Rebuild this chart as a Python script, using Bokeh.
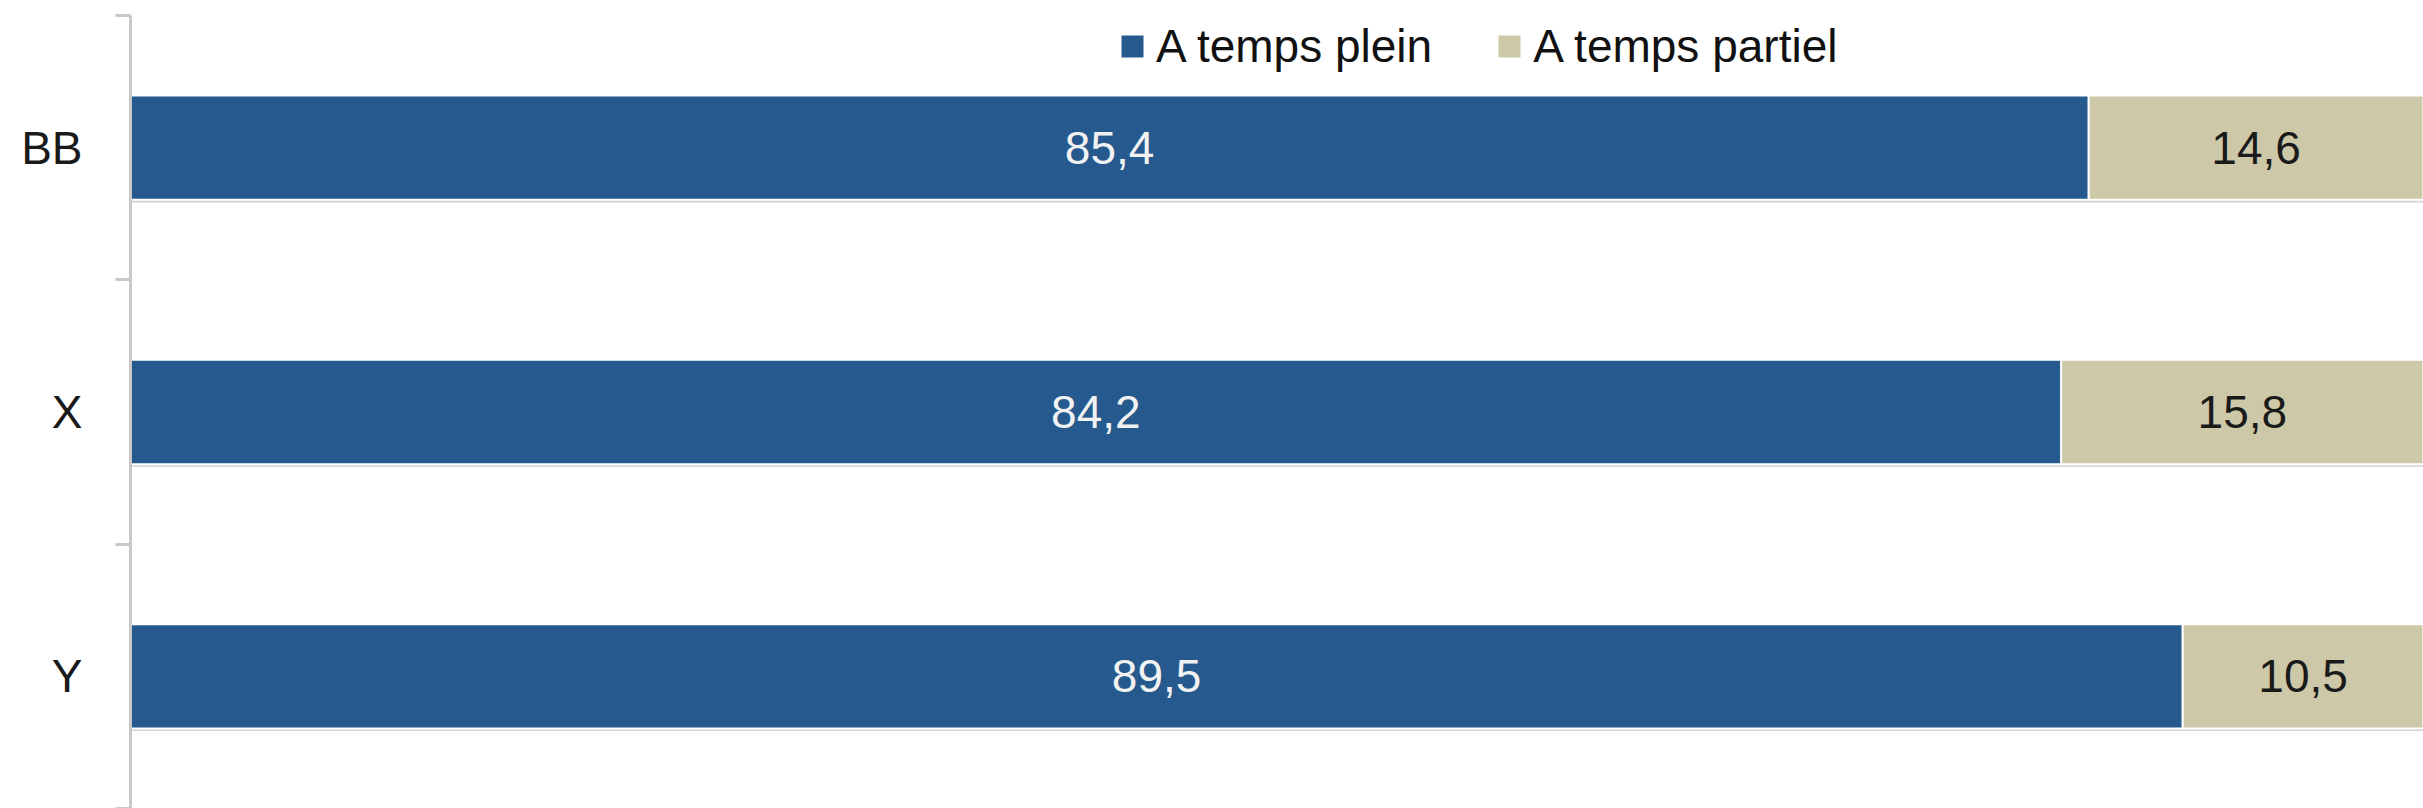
from bokeh.plotting import figure
from bokeh.models import (ColumnDataSource, Range1d, LinearAxis, FixedTicker,
                          Legend, LegendItem)
from bokeh.core.properties import value
from bokeh.embed import file_html
from bokeh.resources import INLINE

# ---- data ----
categories = ["BB", "X", "Y"]
plein = [85.4, 84.2, 89.5]
partiel = [14.6, 15.8, 10.5]
series_names = ["A temps plein", "A temps partiel"]

BLUE = "#265a8f"
BEIGE = "#cdc8a8"
AXIS = "#c8c8c8"
FONT = "Liberation Sans"

def fr(v):
    return f"{v:.1f}".replace(".", ",")

n = len(categories)
ypos = [n - i - 0.5 for i in range(n)]  # category slot centres, first on top

src = ColumnDataSource(dict(
    cat=categories,
    y=ypos,
    y_shadow=[v - 0.012 for v in ypos],
    plein=plein,
    partiel=partiel,
    total=[a + b for a, b in zip(plein, partiel)],
    mid_plein=[a / 2 for a in plein],
    mid_partiel=[a + b / 2 for a, b in zip(plein, partiel)],
    lab_plein=[fr(v) for v in plein],
    lab_partiel=[fr(v) for v in partiel],
))

p = figure(width=2423, height=808, output_backend="svg", toolbar_location=None,
           y_range=Range1d(0, n), x_range=Range1d(0, 100),
           x_axis_location=None, y_axis_location=None,
           min_border_top=15, min_border_bottom=0, min_border_right=0, min_border_left=130)
p.outline_line_color = None
p.xgrid.visible = False
p.ygrid.visible = False
p.background_fill_color = "white"

# shadow under bars
p.hbar(y="y_shadow", left=0, right="total", height=0.39,
       source=src, fill_color="#d2d2d2", line_color=None)

r = p.hbar_stack(["plein", "partiel"], y="y", height=0.395, source=src,
                 color=[BLUE, BEIGE], line_color="white", line_width=2)

p.text(x="mid_plein", y="y", text="lab_plein", source=src, text_align="center",
       text_baseline="middle", text_color="#f2f2f2", text_font=value(FONT),
       text_font_size="46px")
p.text(x="mid_partiel", y="y", text="lab_partiel", source=src, text_align="center",
       text_baseline="middle", text_color="#1a1a1a", text_font=value(FONT),
       text_font_size="46px")

# category axis: labels at slot centres, tick marks (minor) at slot boundaries
y_axis = LinearAxis(ticker=FixedTicker(ticks=ypos, minor_ticks=list(range(n + 1))),
                    major_label_overrides={y: c for y, c in zip(ypos, categories)},
                    axis_line_color=AXIS, axis_line_width=3,
                    major_tick_line_color=None, major_tick_in=0, major_tick_out=0,
                    minor_tick_line_color=AXIS, minor_tick_line_width=3,
                    minor_tick_in=0, minor_tick_out=15,
                    major_label_standoff=33, major_label_text_font=FONT,
                    major_label_text_font_size="46px",
                    major_label_text_color="#1a1a1a")
p.add_layout(y_axis, "left")

legend = Legend(items=[LegendItem(label=series_names[i], renderers=[r[i]]) for i in range(2)],
                orientation="horizontal", location=(987, 735),
                label_text_font=FONT, label_text_font_size="46px",
                label_text_color="#111111",
                glyph_width=30, glyph_height=30, label_standoff=9, spacing=62,
                padding=0, margin=0, border_line_color=None, background_fill_alpha=0)
p.add_layout(legend)

open("out.html", "w").write(file_html(p, INLINE))
